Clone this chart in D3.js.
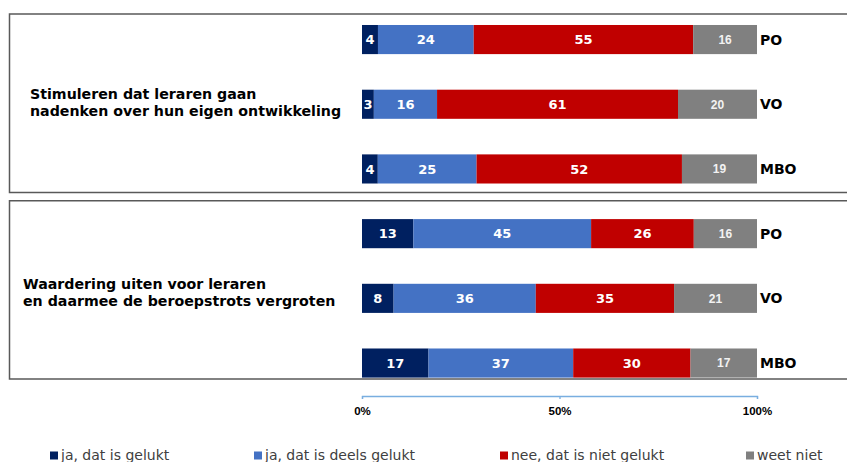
<!DOCTYPE html>
<html>
<head>
<meta charset="utf-8">
<script src="https://cdn.jsdelivr.net/npm/d3@7/dist/d3.min.js"></script>
<style>
  html, body { margin: 0; padding: 0; background: #fff; }
  svg { display: block; }
</style>
</head>
<body>
<svg id="chart" width="847" height="462"></svg>
<script>
// ---- data ----
const groups = [
  ["Stimuleren dat leraren gaan", "nadenken over hun eigen ontwikkeling"],
  ["Waardering uiten voor leraren", "en daarmee de beroepstrots vergroten"]
];
const levels = ["PO", "VO", "MBO"];
const seriesNames = ["ja, dat is gelukt", "ja, dat is deels gelukt", "nee, dat is niet gelukt", "weet niet"];
const jaGelukt      = [4, 3, 4, 13, 8, 17];
const deelsGelukt   = [24, 16, 25, 45, 36, 37];
const nietGelukt    = [55, 61, 52, 26, 35, 30];
const weetNiet      = [16, 20, 19, 16, 21, 17];
const tickValues = [0, 0.5, 1];
const tickLabels = ["0%", "50%", "100%"];

const colors = ["#002060", "#4472C4", "#C00000", "#808080"];
const keys = ["s0", "s1", "s2", "s3"];

const rows = [];
groups.forEach((g, gi) => levels.forEach((lv, li) => {
  const i = gi * levels.length + li;
  rows.push({ id: gi + "-" + lv, group: gi, level: lv,
    s0: jaGelukt[i], s1: deelsGelukt[i], s2: nietGelukt[i], s3: weetNiet[i] });
}));

const svg = d3.select("#chart");
const font = "'DejaVu Sans', Verdana, sans-serif";

const x = d3.scaleLinear().domain([0, 1]).range([362, 757]);
const y = d3.scaleBand().domain(rows.map(r => r.id)).range([7.2, 395.4])
  .paddingInner(0.55).paddingOuter(0.275);

// group boxes
const boxes = [[14, 192.5], [200.7, 379]];
boxes.forEach(([y0, y1]) => {
  svg.append("path")
    .attr("d", `M850,${y0}H9.5V${y1}H850`)
    .attr("fill", "none").attr("stroke", "#595959").attr("stroke-width", 1.5);
});

// stacked bars
const stack = d3.stack().keys(keys).offset(d3.stackOffsetExpand);
const stacked = stack(rows);

const layer = svg.append("g").selectAll("g").data(stacked).join("g")
  .attr("fill", (d, i) => colors[i]);
layer.selectAll("rect").data(d => d.map(p => ({ p, row: p.data }))).join("rect")
  .attr("x", d => x(d.p[0]))
  .attr("y", d => y(d.row.id))
  .attr("width", d => x(d.p[1]) - x(d.p[0]))
  .attr("height", y.bandwidth());

// value labels
stacked.forEach((s, si) => {
  svg.append("g").selectAll("text").data(s).join("text")
    .attr("x", d => (x(d[0]) + x(d[1])) / 2)
    .attr("y", d => y(d.data.id) + y.bandwidth() / 2)
    .attr("dy", "0.36em")
    .attr("text-anchor", "middle")
    .attr("fill", si === 3 ? "#f2f2f2" : "#ffffff")
    .attr("font-family", si === 3 ? "'Liberation Sans', Arial, sans-serif" : font)
    .attr("font-weight", "bold")
    .attr("font-size", si === 3 ? 12 : 13)
    .text(d => d.data[keys[si]]);
});

// level labels
svg.append("g").selectAll("text").data(rows).join("text")
  .attr("x", 760)
  .attr("y", d => y(d.id) + y.bandwidth() / 2)
  .attr("dy", "0.36em")
  .attr("font-family", font).attr("font-weight", "bold").attr("font-size", 14)
  .attr("fill", "#000")
  .text(d => d.level);

// group labels
const groupLabelPos = [[30, 99], [23, 289]];
groups.forEach((lines, gi) => {
  const t = svg.append("text")
    .attr("font-family", font).attr("font-weight", "bold").attr("font-size", 14.2)
    .attr("fill", "#000");
  lines.forEach((ln, li) => {
    t.append("tspan").attr("x", groupLabelPos[gi][0])
      .attr("y", groupLabelPos[gi][1] + li * 16.5).text(ln);
  });
});

// axis
const axis = d3.axisBottom(x).tickValues(tickValues)
  .tickFormat((d, i) => tickLabels[i]).tickSize(3).tickSizeOuter(3).tickPadding(8);
const ag = svg.append("g").attr("transform", "translate(0,396)").call(axis);
ag.select(".domain").attr("stroke", "#79aee0").attr("stroke-width", 1.3);
ag.selectAll(".tick line").attr("stroke", "#79aee0").attr("stroke-width", 1.3);
ag.selectAll(".tick text")
  .attr("font-family", "'Liberation Sans', Arial, sans-serif")
  .attr("font-weight", "bold").attr("font-size", 11.5).attr("fill", "#000");

// legend
const legendX = [50, 254, 500, 746];
const lg = svg.append("g").selectAll("g").data(seriesNames).join("g")
  .attr("transform", (d, i) => `translate(${legendX[i]},0)`);
lg.append("rect").attr("x", 0).attr("y", 451.5).attr("width", 8).attr("height", 8)
  .attr("fill", (d, i) => colors[i]);
lg.append("text").attr("x", 11).attr("y", 460)
  .attr("font-family", font).attr("font-size", 14).attr("fill", "#404040")
  .text(d => d);
</script>
</body>
</html>
